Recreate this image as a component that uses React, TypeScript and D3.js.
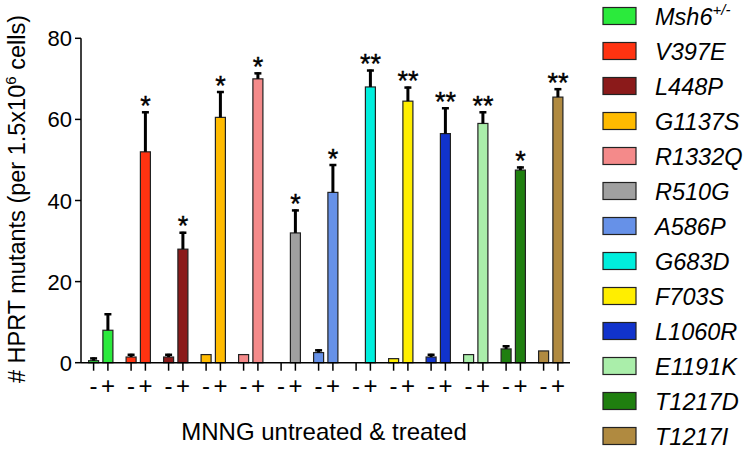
import React from "react";
import * as d3 from "d3";

const mutants = ["Msh6", "V397E", "L448P", "G1137S", "R1332Q", "R510G", "A586P", "G683D", "F703S", "L1060R", "E1191K", "T1217D", "T1217I"];
const mutantSup = ["+/-", "", "", "", "", "", "", "", "", "", "", "", ""];
const colors = ["#2BEA3C", "#FF3311", "#8B1A1A", "#FFBB00", "#F48A8A", "#A0A0A0", "#6691E8", "#00EEDD", "#FFEE00", "#1133CC", "#AAEEAA", "#1F7F0F", "#B08A40"];
const treatments = ["-", "+"];
const untreated = [0.5, 1.4, 1.4, 2.0, 2.0, 0, 2.5, 0, 1.0, 1.4, 2.0, 3.4, 2.9];
const untreatedErr = [0.8, 0.8, 0.8, 0, 0, 0, 0.8, 0, 0, 0.8, 0, 0.9, 0];
const treated = [8, 52, 28, 60.5, 70, 32, 42, 68, 64.5, 56.5, 59, 47.5, 65.5];
const treatedErr = [4.2, 10, 4.3, 6.5, 1.6, 5.8, 7, 4.3, 3.6, 6.5, 3, 0.9, 2.2];
const significance = ["", "*", "*", "*", "*", "*", "*", "**", "**", "**", "**", "*", "**"];
const yTicks = [0, 20, 40, 60, 80];

const FONT = "'Liberation Sans', Arial, sans-serif";

export default function App() {
  const W = 751, H = 451;
  const x0 = d3.scaleBand<string>().domain(mutants).range([82, 569.5]);
  const x1 = d3.scaleBand<string>().domain(treatments).range([0, x0.step()]).paddingInner(0.3).paddingOuter(0.461);
  const y = d3.scaleLinear().domain([0, 80]).range([362.7, 38.3]);
  const bw = x1.bandwidth();

  const bars: any[] = [];
  mutants.forEach((m, i) => {
    [[untreated[i], untreatedErr[i], "-"], [treated[i], treatedErr[i], "+"]].forEach(([v, e, t]: any) => {
      bars.push({ m, i, v, e, t, x: (x0(m) as number) + (x1(t) as number) });
    });
  });

  return (
    <svg width={W} height={H} style={{ position: "absolute", left: 0, top: 0, background: "#fff" }} fontFamily={FONT}>
      {/* bars */}
      {bars.map((b, k) => (
        b.v > 0 ? (
          <rect key={"b" + k} x={b.x} y={y(b.v)} width={bw} height={y(0) - y(b.v)}
            fill={colors[b.i]} stroke="#222" strokeWidth={1.2} />
        ) : null
      ))}
      {/* error bars */}
      {bars.map((b, k) => (
        b.e > 0 ? (
          <g key={"e" + k}>
            <line x1={b.x + bw / 2} x2={b.x + bw / 2} y1={y(b.v)} y2={y(b.v + b.e)} stroke="#000" strokeWidth={3} />
            <line x1={b.x + bw / 2 - 3.5} x2={b.x + bw / 2 + 3.5} y1={y(b.v + b.e) + 1} y2={y(b.v + b.e) + 1} stroke="#000" strokeWidth={2.5} />
          </g>
        ) : null
      ))}
      {/* significance */}
      {mutants.map((m, i) => (
        significance[i] ? (
          <text key={"s" + i} x={(x0(m) as number) + (x1("+") as number) + bw / 2} y={y(treated[i] + treatedErr[i]) + 3.5}
            textAnchor="middle" fontSize={27} fill="#000" stroke="#000" strokeWidth={0.4}>{significance[i]}</text>
        ) : null
      ))}
      {/* axes */}
      <line x1={81} x2={81} y1={y(80)} y2={y(0)} stroke="#000" strokeWidth={1.5} />
      <line x1={81} x2={570} y1={y(0)} y2={y(0)} stroke="#000" strokeWidth={1.5} />
      {yTicks.map((t) => (
        <g key={"yt" + t}>
          <line x1={75} x2={81} y1={y(t)} y2={y(t)} stroke="#000" strokeWidth={1.5} />
          <text x={72} y={y(t) + 8} textAnchor="end" fontSize={22} fill="#000">{t}</text>
        </g>
      ))}
      {bars.map((b, k) => (
        <g key={"xt" + k}>
          <line x1={b.x + bw / 2} x2={b.x + bw / 2} y1={y(0)} y2={y(0) + 8} stroke="#000" strokeWidth={1.5} />
          <text x={b.x + bw / 2} y={394} textAnchor="middle" fontSize={24} fill="#000">{b.t}</text>
        </g>
      ))}
      {/* axis titles */}
      <text transform="translate(25,199) rotate(-90)" textAnchor="middle" fontSize={23.5} fill="#000">
        # HPRT mutants (per 1.5x10<tspan fontSize={15} dy={-9}>6</tspan><tspan dy={9}> cells)</tspan>
      </text>
      <text x={324} y={440} textAnchor="middle" fontSize={24} fill="#000">MNNG untreated &amp; treated</text>
      {/* legend */}
      {mutants.map((m, i) => {
        const cy = 16 + i * 35;
        return (
          <g key={"l" + i}>
            <rect x={603} y={cy - 8.5} width={33} height={17} fill={colors[i]} stroke="#222" strokeWidth={1.2} />
            <text x={655} y={cy + 8.5} fontSize={23.5} fontStyle="italic" fill="#000">
              {m}
              {mutantSup[i] ? <tspan fontSize={15} dy={-10}>{mutantSup[i]}</tspan> : null}
            </text>
          </g>
        );
      })}
    </svg>
  );
}
